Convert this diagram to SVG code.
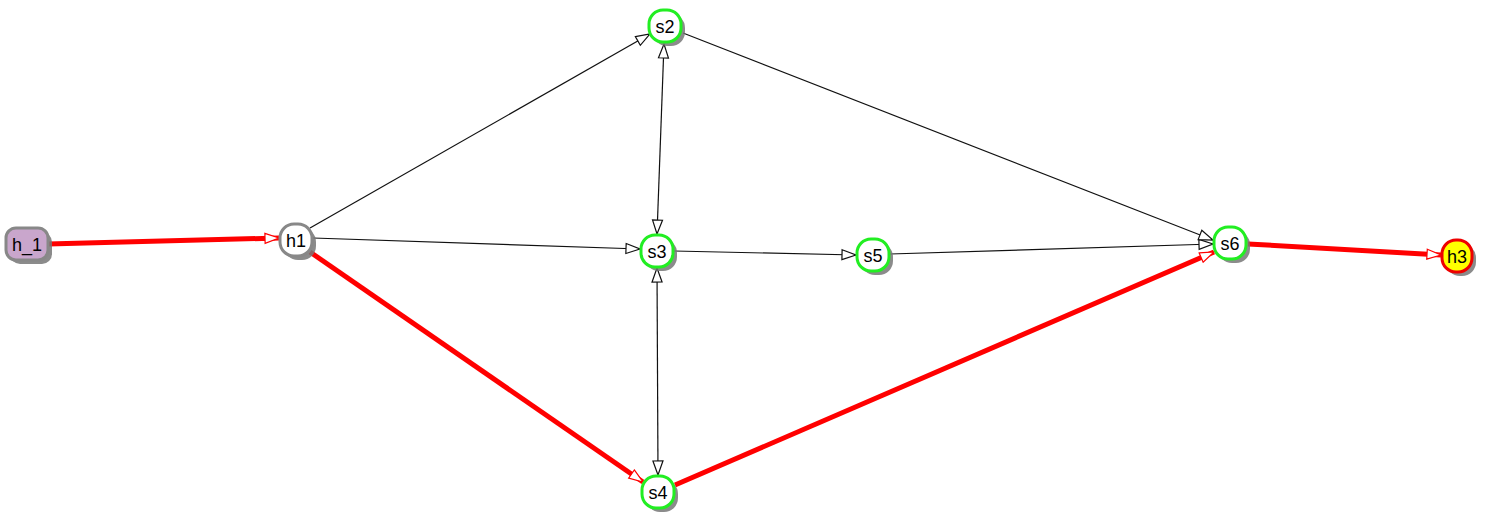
<svg xmlns="http://www.w3.org/2000/svg" width="1486" height="524" viewBox="0 0 1486 524">
<style>
.n{stroke-width:3}
.sh{fill:#777;opacity:.85}
.t{font-family:"Liberation Sans",Arial,sans-serif;font-size:18px;text-anchor:middle;dominant-baseline:central;fill:#000}
.g{fill:#fff;stroke:#2e2;}
.k{stroke:#111;stroke-width:1.2;fill:none}
.r{stroke:#f00;stroke-width:5;fill:none}
</style>
<defs>
<marker id="ak" markerUnits="userSpaceOnUse" markerWidth="18" markerHeight="14" refX="15" refY="6" orient="auto-start-reverse" viewBox="0 0 18 12"><path d="M1,1 L15,6 L1,11 Z" fill="#fff" stroke="#111" stroke-width="1.2"/></marker>
<marker id="ar" markerUnits="userSpaceOnUse" markerWidth="18" markerHeight="14" refX="15" refY="6" orient="auto" viewBox="0 0 18 12"><path d="M1,1 L15,6 L1,11 Z" fill="#fff" stroke="#f00" stroke-width="1.2"/></marker>
</defs>
<g id="connectors">
<line class="r" x1="48" y1="244" x2="279" y2="238" marker-end="url(#ar)"/>
<line class="k" x1="310" y1="228" x2="650" y2="34" marker-end="url(#ak)"/>
<line class="k" x1="313" y1="238" x2="640" y2="249" marker-end="url(#ak)"/>
<line class="r" x1="310" y1="252" x2="643" y2="482" marker-end="url(#ar)"/>
<line class="k" x1="664" y1="44" x2="657" y2="234" marker-start="url(#ak)" marker-end="url(#ak)"/>
<line class="k" x1="657" y1="268" x2="658" y2="475" marker-start="url(#ak)" marker-end="url(#ak)"/>
<line class="k" x1="674" y1="251" x2="856" y2="255" marker-end="url(#ak)"/>
<line class="k" x1="890" y1="254" x2="1213" y2="244" marker-end="url(#ak)"/>
<line class="k" x1="683" y1="33" x2="1213" y2="240" marker-end="url(#ak)"/>
<line class="r" x1="675" y1="485" x2="1214" y2="252" marker-end="url(#ar)"/>
<line class="r" x1="1248" y1="244" x2="1441" y2="255" marker-end="url(#ar)"/>
</g>
<g id="h_1"><rect class="sh" x="10" y="232" width="42" height="32" rx="10"/><rect class="n" x="6" y="228" width="42" height="32" rx="10" fill="#c9a6cc" stroke="#888"/><text class="t" x="27" y="245">h_1</text></g>
<g id="h1"><rect class="sh" x="284" y="228" width="32" height="32" rx="14"/><rect class="n" x="280" y="224" width="32" height="32" rx="14" fill="#fff" stroke="#888"/><text class="t" x="296" y="241">h1</text></g>
<g id="s2"><rect class="sh" x="653" y="14" width="32" height="32" rx="14"/><rect class="n g" x="649" y="10" width="32" height="32" rx="14"/><text class="t" x="665" y="27">s2</text></g>
<g id="s3"><rect class="sh" x="645" y="239" width="32" height="32" rx="14"/><rect class="n g" x="641" y="235" width="32" height="32" rx="14"/><text class="t" x="657" y="252">s3</text></g>
<g id="s4"><rect class="sh" x="646" y="480" width="32" height="32" rx="14"/><rect class="n g" x="642" y="476" width="32" height="32" rx="14"/><text class="t" x="658" y="493">s4</text></g>
<g id="s5"><rect class="sh" x="861" y="243" width="32" height="32" rx="14"/><rect class="n g" x="857" y="239" width="32" height="32" rx="14"/><text class="t" x="873" y="256">s5</text></g>
<g id="s6"><rect class="sh" x="1218" y="231" width="32" height="32" rx="14"/><rect class="n g" x="1214" y="227" width="32" height="32" rx="14"/><text class="t" x="1230" y="244">s6</text></g>
<g id="h3"><rect class="sh" x="1446" y="244" width="30" height="32" rx="14"/><rect class="n" x="1442" y="240" width="30" height="32" rx="14" fill="#ff0" stroke="#e00"/><text class="t" x="1457" y="257">h3</text></g>
</svg>
